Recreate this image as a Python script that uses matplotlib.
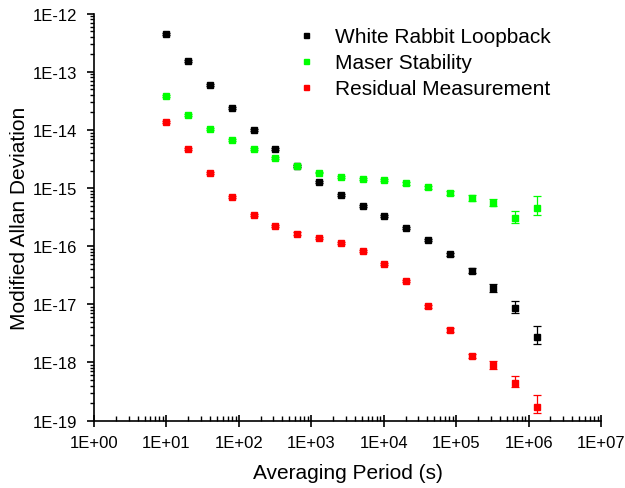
import numpy as np
import matplotlib
matplotlib.use('Agg')
import matplotlib.pyplot as plt
from matplotlib.ticker import LogLocator, FuncFormatter, NullFormatter

plt.rcParams['font.family'] = ['Liberation Sans', 'DejaVu Sans']

# Averaging periods (s)
tau = [10, 20, 40, 80, 160, 320, 640, 1280, 2560, 5120, 10240, 20480,
       40960, 81920, 163840, 327680, 655360, 1310720]

# White Rabbit Loopback
wr_dev = [4.5e-13, 1.55e-13, 5.9e-14, 2.35e-14, 1.0e-14, 4.7e-15, 2.4e-15, 1.28e-15,
          7.5e-16, 4.9e-16, 3.3e-16, 2.05e-16, 1.27e-16, 7.2e-17, 3.75e-17, 1.87e-17,
          8.8e-18, 2.7e-18]
wr_lo = [1.8e-14, 6e-15, 2.4e-15, 1e-15, 4e-16, 2e-16, 1e-16, 5e-17, 3e-17, 2e-17,
         1.4e-17, 9e-18, 6e-18, 4e-18, 3.5e-18, 2.4e-18, 1.6e-18, 0.6e-18]
wr_hi = [1.8e-14, 6e-15, 2.4e-15, 1e-15, 4e-16, 2e-16, 1e-16, 5e-17, 3e-17, 2e-17,
         1.4e-17, 9e-18, 6e-18, 4e-18, 4.0e-18, 3.2e-18, 2.4e-18, 1.6e-18]

# Maser Stability
maser_dev = [3.85e-14, 1.8e-14, 1.04e-14, 6.7e-15, 4.65e-15, 3.3e-15, 2.4e-15, 1.85e-15,
             1.55e-15, 1.45e-15, 1.38e-15, 1.2e-15, 1.03e-15, 8.2e-16, 6.8e-16, 5.6e-16,
             3.0e-16, 4.5e-16]
maser_lo = [1.5e-15, 7e-16, 4e-16, 2.7e-16, 1.9e-16, 1.3e-16, 1e-16, 7e-17, 6e-17, 6e-17,
            6e-17, 6e-17, 7e-17, 7.5e-17, 7.5e-17, 7e-17, 5e-17, 1.0e-16]
maser_hi = [1.5e-15, 7e-16, 4e-16, 2.7e-16, 1.9e-16, 1.3e-16, 1e-16, 7e-17, 6e-17, 6e-17,
            6e-17, 6e-17, 7e-17, 7.5e-17, 7.5e-17, 8e-17, 9.6e-17, 2.7e-16]

# Residual Measurement
resid_dev = [1.35e-14, 4.75e-15, 1.8e-15, 7.0e-16, 3.5e-16, 2.2e-16, 1.65e-16, 1.4e-16,
             1.13e-16, 8.2e-17, 4.9e-17, 2.5e-17, 9.3e-18, 3.6e-18, 1.3e-18, 9.1e-19,
             4.5e-19, 1.7e-19]
resid_lo = [5.4e-16, 1.9e-16, 7e-17, 2.8e-17, 1.4e-17, 9e-18, 7e-18, 6e-18, 5e-18, 4e-18,
            2.5e-18, 1.3e-18, 6e-19, 3e-19, 1.2e-19, 1.25e-19, 0.8e-19, 0.34e-19]
resid_hi = [5.4e-16, 1.9e-16, 7e-17, 2.8e-17, 1.4e-17, 9e-18, 7e-18, 6e-18, 5e-18, 4e-18,
            2.5e-18, 1.3e-18, 6e-19, 3e-19, 1.2e-19, 1.55e-19, 1.27e-19, 1.0e-19]

series = [
    ('White Rabbit Loopback', wr_dev, wr_lo, wr_hi, 'black'),
    ('Maser Stability', maser_dev, maser_lo, maser_hi, '#00ff00'),
    ('Residual Measurement', resid_dev, resid_lo, resid_hi, '#ff0000'),
]

fig = plt.figure(figsize=(6.25, 4.89), dpi=100)
ax = fig.add_axes([0.1504, 0.138, 0.8112, 0.832])

for name, dev, lo, hi, col in series:
    ax.errorbar(tau, dev, yerr=[lo, hi], fmt='none', ecolor=col, elinewidth=0.9,
                capsize=3, capthick=0.9)
    ax.plot(tau, dev, 's', color=col, ms=4.5, label=name)

ax.set_xscale('log')
ax.set_yscale('log')
ax.set_xlim(1, 1e7)
ax.set_ylim(1e-19, 1e-12)

fmt = FuncFormatter(lambda v, p: '1E%+03d' % int(round(np.log10(v))))
ax.xaxis.set_major_locator(LogLocator(base=10, numticks=10))
ax.yaxis.set_major_locator(LogLocator(base=10, numticks=10))
ax.xaxis.set_minor_locator(LogLocator(base=10, subs=np.arange(2, 10), numticks=20))
ax.yaxis.set_minor_locator(LogLocator(base=10, subs=np.arange(2, 10), numticks=20))
ax.xaxis.set_major_formatter(fmt)
ax.yaxis.set_major_formatter(fmt)
ax.xaxis.set_minor_formatter(NullFormatter())
ax.yaxis.set_minor_formatter(NullFormatter())

ax.spines['top'].set_visible(False)
ax.spines['right'].set_visible(False)
for s in ['left', 'bottom']:
    ax.spines[s].set_linewidth(1.2)

ax.tick_params(axis='x', which='major', direction='inout', length=9, width=1.2,
               labelsize=12, pad=6)
ax.tick_params(axis='x', which='minor', direction='in', length=3.5, width=1)
ax.tick_params(axis='y', which='major', direction='out', length=5, width=1.2,
               labelsize=12, pad=7)
ax.tick_params(axis='y', which='minor', direction='out', length=3, width=1)

ax.set_xlabel('Averaging Period (s)', fontsize=15, labelpad=9)
ax.set_ylabel('Modified Allan Deviation', fontsize=15, labelpad=3)

ax.legend(loc='upper left', bbox_to_anchor=(0.381, 0.988), frameon=False,
          fontsize=15, handlelength=1.0, handletextpad=0.9, labelspacing=0.35,
          markerscale=0.8, borderaxespad=0)

fig.savefig('out.png', dpi=100)
